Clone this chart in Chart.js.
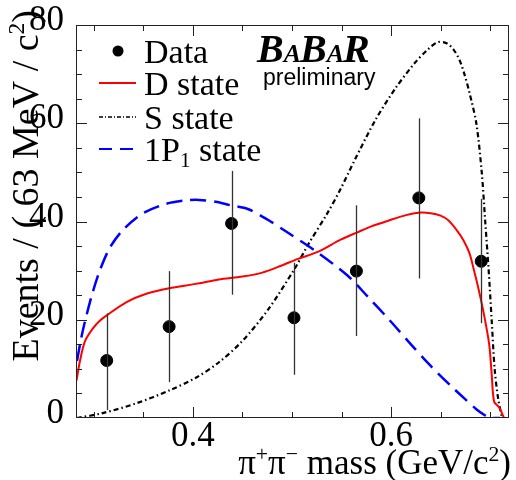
<!DOCTYPE html>
<html>
<head>
<meta charset="utf-8">
<script src="https://cdn.jsdelivr.net/npm/chart.js@4"></script>
<style>
body{margin:0;background:#fff}
#c{display:block}
</style>
</head>
<body>
<canvas id="c" width="516" height="480"></canvas>
<script>
// data points (bin centres, 63 MeV bins)
const binCenters=[0.313,0.376,0.439,0.502,0.565,0.628,0.691]
const events=[11.7,18.6,39.6,20.4,29.9,44.8,31.9]
const errLow=[1.6,7.3,25.1,8.8,16.7,28.4,19.3]
const errHigh=[21.3,29.9,50.3,31.6,43.3,61.0,44.6]

// fit curves
const dMass=[0.2825,0.286,0.291,0.2993,0.306,0.313,0.333,0.353,0.376,0.403,0.426,0.450,0.470,0.489,0.506,0.526,0.549,0.566,0.580,0.599,0.615,0.628,0.640,0.650,0.658,0.666,0.673,0.679,0.684,0.689,0.694,0.699,0.7015,0.704,0.709,0.714]
const dState=[7.6,11.6,15.6,18.3,19.8,20.9,23.6,25.3,26.4,27.3,28.2,28.8,29.6,31.0,32.4,33.8,36.3,37.8,39.0,40.3,41.3,41.8,41.7,41.2,40.2,38.3,36.2,33.6,29.8,25.6,20.8,15.0,9.0,3.3,2.2,0]

const sMass=[0.283,0.309,0.343,0.376,0.403,0.426,0.450,0.476,0.503,0.516,0.536,0.549,0.563,0.584,0.604,0.624,0.637,0.647,0.656,0.663,0.669,0.674,0.679,0.686,0.6915,0.695,0.6985,0.7015,0.7045,0.708,0.712]
const sState=[0,1.0,3.0,5.6,8.2,11.3,15.7,22.1,30.5,35.2,41.8,46.6,52.4,60.6,67.0,72.3,75.0,76.5,76.3,75.0,72.9,70.0,66.3,60.0,50.0,40.0,30.0,20.0,10.0,4.0,0]

const pMass=[0.283,0.287,0.291,0.298,0.306,0.316,0.329,0.349,0.373,0.393,0.406,0.423,0.438,0.456,0.476,0.496,0.523,0.556,0.576,0.599,0.620,0.640,0.660,0.675,0.686,0.695,0.700,0.710]
const pState=[11.6,16.0,19.6,25.0,30.0,34.6,38.2,41.6,43.6,44.3,44.4,44.0,43.3,42.5,40.3,37.7,34.1,29.0,24.8,19.8,15.0,10.6,6.6,3.8,1.8,0.5,0,0]

const xTickLabels=[0.4,0.6]
const yTickLabels=[0,20,40,60,80]

const SERIF="'Liberation Serif', 'DejaVu Serif', serif"

function pts(xs,ys){
return xs.map((x,i)=>({x:x,y:ys[i]}))
}

// text with super/subscripts: parts = [[text, 0|1|-1], ...]
function richWidth(ctx,parts,size){
let w=0
parts.forEach(p=>{
ctx.font=(p[1]?size*0.62:size)+"px "+SERIF
w+=ctx.measureText(p[0]).width
})
return w
}
function drawRich(ctx,parts,x,y,size,align){
let w=richWidth(ctx,parts,size)
let cx=align=="right"?x-w:x
parts.forEach(p=>{
let s=p[1]?size*0.62:size
ctx.font=s+"px "+SERIF
let dy=p[1]==1?-size*0.38:(p[1]==-1?size*0.18:0)
ctx.fillText(p[0],cx,y+dy)
cx+=ctx.measureText(p[0]).width
})
}

const decor={
id:'decor',
afterDatasetsDraw(chart){
const {ctx,chartArea:a,scales:{x,y}}=chart
ctx.save()
// error bars
ctx.strokeStyle='#333'
ctx.lineWidth=1.3
binCenters.forEach((m,i)=>{
let px=Math.round(x.getPixelForValue(m))+0.5
ctx.beginPath()
ctx.moveTo(px,y.getPixelForValue(errLow[i]))
ctx.lineTo(px,y.getPixelForValue(errHigh[i]))
ctx.stroke()
})
ctx.restore()
},
afterDraw(chart){
const {ctx,chartArea:a,scales:{x,y}}=chart
ctx.save()
// frame
ctx.strokeStyle='#222'
ctx.lineWidth=1
ctx.strokeRect(a.left+0.5,a.top+0.5,a.right-a.left-1,a.bottom-a.top-1)
// x ticks, both sides
for(let v=0.30;v<0.7001;v+=0.05){
let px=Math.round(x.getPixelForValue(v))+0.5
let major=xTickLabels.some(t=>Math.abs(t-v)<1e-6)
let L=major?11:6
ctx.beginPath()
ctx.moveTo(px,a.bottom);ctx.lineTo(px,a.bottom-L)
ctx.moveTo(px,a.top);ctx.lineTo(px,a.top+L)
ctx.stroke()
}
// y ticks, both sides
for(let v=5;v<80;v+=5){
let py=Math.round(y.getPixelForValue(v))+0.5
let L=v%20==0?11:6
ctx.beginPath()
ctx.moveTo(a.left,py);ctx.lineTo(a.left+L,py)
ctx.moveTo(a.right,py);ctx.lineTo(a.right-L,py)
ctx.stroke()
}

// legend
ctx.fillStyle='#000'
ctx.textBaseline='alphabetic'
ctx.textAlign='left'
ctx.beginPath()
ctx.arc(118,51,5.5,0,Math.PI*2)
ctx.fill()
ctx.font="34px "+SERIF
ctx.fillText("Data",144,63)

ctx.strokeStyle='#ff0000';ctx.lineWidth=2
ctx.beginPath();ctx.moveTo(99,83);ctx.lineTo(136,83);ctx.stroke()
ctx.fillText("D state",144,95)

ctx.strokeStyle='#000';ctx.lineWidth=1.3
ctx.setLineDash([4,2,1,2])
ctx.beginPath();ctx.moveTo(99,117);ctx.lineTo(136,117);ctx.stroke()
ctx.fillText("S state",144,129)

ctx.strokeStyle='#0000ff';ctx.lineWidth=2
ctx.setLineDash([13,8])
ctx.beginPath();ctx.moveTo(99,149);ctx.lineTo(136,149);ctx.stroke()
ctx.setLineDash([])
drawRich(ctx,[["1P",0],["1",-1],[" state",0]],144,161,34,"left")

// BaBar logo
let bx=257
const logo=[["B",40],["A",26],["B",40],["A",26],["R",40]]
logo.forEach(l=>{
ctx.font="italic bold "+l[1]+"px "+SERIF
ctx.fillText(l[0],bx,62)
bx+=ctx.measureText(l[0]).width-(l[1]==26?1:0)
})
ctx.font="23px 'Liberation Sans', Arial, sans-serif"
ctx.fillText("preliminary",263,85)

// axis titles
drawRich(ctx,[["π",0],["+",1],["π",0],["−",1],[" mass (GeV/c",0],["2",1],[")",0]],511,474,35,"right")
ctx.translate(38,10)
ctx.rotate(-Math.PI/2)
drawRich(ctx,[["Events / ( 63 MeV / c",0],["2",1],[")",0]],0,0,38,"right")
ctx.restore()
}
}

new Chart(document.getElementById('c'),{
type:'scatter',
data:{
datasets:[
{label:'Data',data:pts(binCenters,events),pointRadius:6,pointHoverRadius:6,backgroundColor:'#000',borderColor:'#000',order:0},
{label:'D state',type:'line',data:pts(dMass,dState),borderColor:'#ff0000',borderWidth:2,pointRadius:0,fill:false,tension:0.3,order:2},
{label:'S state',type:'line',data:pts(sMass,sState),borderColor:'#000',borderWidth:2.2,borderDash:[5,3,1.5,3],pointRadius:0,fill:false,tension:0.3,order:3},
{label:'1P1 state',type:'line',data:pts(pMass,pState),borderColor:'#0000ff',borderWidth:2.5,borderDash:[16,8],pointRadius:0,fill:false,tension:0.3,order:1}
]
},
options:{
responsive:false,
animation:false,
events:[],
layout:{padding:{left:0,right:3,top:19,bottom:0}},
plugins:{legend:{display:false},tooltip:{enabled:false}},
scales:{
x:{
type:'linear',min:0.282,max:0.719,
grid:{display:false},border:{display:false},
afterBuildTicks:s=>{s.ticks=xTickLabels.map(v=>({value:v}))},
afterFit:s=>{s.height=62},
ticks:{color:'#000',padding:-10,font:{family:SERIF,size:35},callback:v=>v.toFixed(1),maxRotation:0}
},
y:{
min:0,max:80,
grid:{display:false},border:{display:false},
afterBuildTicks:s=>{s.ticks=yTickLabels.map(v=>({value:v}))},
afterFit:s=>{s.width=76},
ticks:{color:'#000',padding:4,labelOffset:-4,font:{family:SERIF,size:35}}
}
}
},
plugins:[decor]
})
</script>
</body>
</html>
